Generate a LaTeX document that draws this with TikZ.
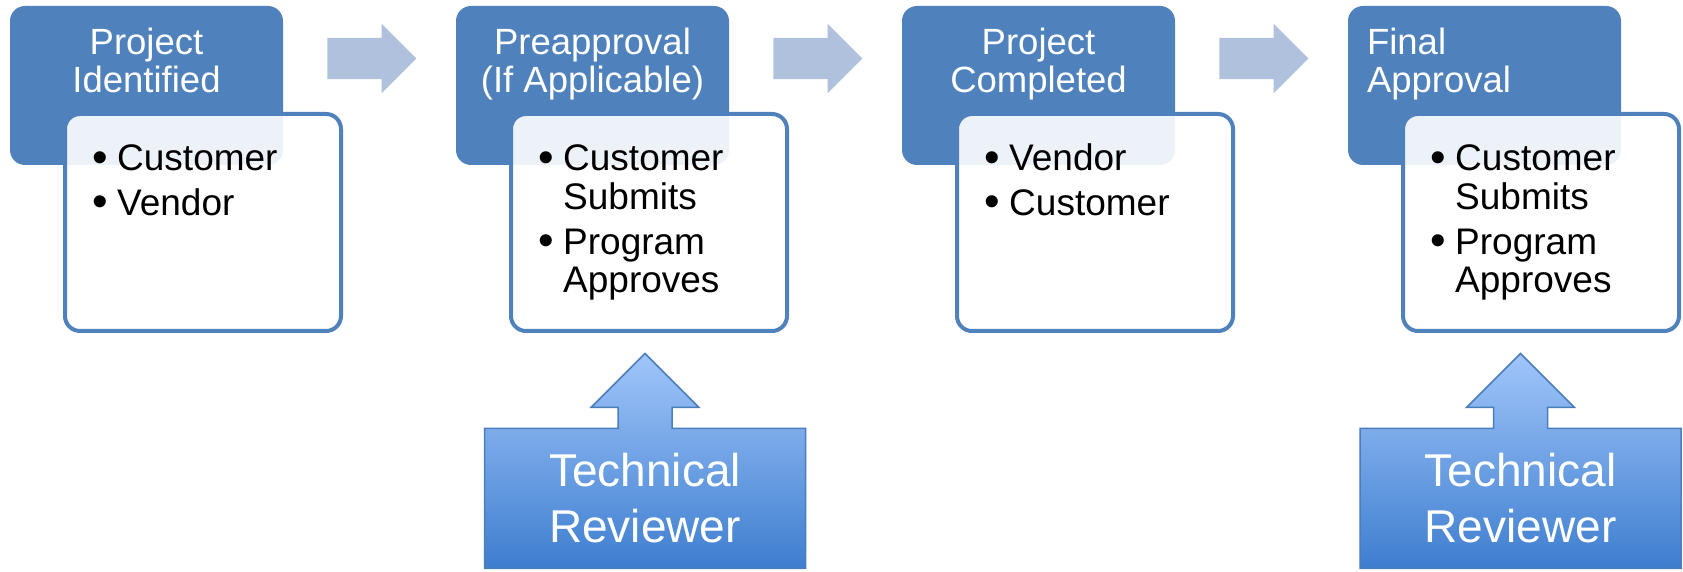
\documentclass[tikz,border=0pt]{standalone}
\usepackage{fontspec}
\setmainfont{Liberation Sans}
\usetikzlibrary{shapes.arrows,backgrounds}

\definecolor{stageblue}{HTML}{4F81BD}
\definecolor{flowgray}{HTML}{B0C1DD}
\definecolor{revtop}{HTML}{A0C5FA}
\definecolor{revbot}{HTML}{3E7ECF}
\definecolor{revline}{HTML}{4A7EBB}

\newcommand{\bdot}{\raisebox{-1.6pt}{\fontsize{44.4}{44}\selectfont\textbullet}}
\newcommand{\bitem}[1]{\makebox[25pt][l]{\bdot}#1}
\newcommand{\bcont}[1]{\hspace*{25pt}#1}

\begin{document}
\begin{tikzpicture}[x=1pt, y=1pt, node distance=446pt,
    stagebox/.style={rectangle, fill=stageblue, rounded corners=15pt, minimum width=273pt, minimum height=159pt, inner sep=0pt},
    stagetitle/.style={text=white, inner sep=0pt, font=\fontsize{36.5}{38}\selectfont},
    infobox/.style={rectangle, draw=stageblue, line width=4pt, fill=white, fill opacity=0.9, text opacity=1, rounded corners=15pt, minimum width=276pt, minimum height=217pt},
    infotext/.style={anchor=base west, align=left, inner sep=0pt, font=\fontsize{37}{38.6}\selectfont},
    flowarrow/.style={single arrow, fill=flowgray, minimum height=89pt, minimum width=69pt, single arrow head extend=14pt, single arrow tip angle=90, inner sep=0pt, inner ysep=20.5pt},
    reviewer/.style={rectangle, minimum width=321pt, minimum height=140pt, outer sep=0pt, text=white, align=center, font=\fontsize{46}{56}\selectfont},
    revshape/.style={top color=revtop, bottom color=revbot, draw=revline, line width=1.5pt}]

    \useasboundingbox (0,0) rectangle (1683,572);

    \node[stagebox] (t1) at (146.5,486.5) {};
    \node[stagebox, right of=t1] (t2) {};
    \node[stagebox, right of=t2] (t3) {};
    \node[stagebox, right of=t3] (t4) {};

    \node[flowarrow] (a1) at ([shift={(215,27)}]t1.center) {};
    \node[flowarrow] (a2) at ([shift={(215,27)}]t2.center) {};
    \node[flowarrow] (a3) at ([shift={(215,27)}]t3.center) {};

    \node[infobox] (w1) at ([shift={(56.5,-137)}]t1.center) {};
    \node[infobox] (w2) at ([shift={(56.5,-137)}]t2.center) {};
    \node[infobox] (w3) at ([shift={(56.5,-137)}]t3.center) {};
    \node[infobox] (w4) at ([shift={(56.5,-137)}]t4.center) {};

    \node[stagetitle, align=center, anchor=base] (n1) at ([yshift=-87]t1.north) {Project\\Identified};
    \node[stagetitle, align=center, anchor=base] (n2) at ([yshift=-87]t2.north) {Preapproval\\(If Applicable)};
    \node[stagetitle, align=center, anchor=base] (n3) at ([yshift=-87]t3.north) {Project\\Completed};
    \node[stagetitle, align=left, anchor=base west] (n4) at ([shift={(19,-87)}]t4.north west) {Final\\Approval};

    \node[infotext] (b1) at ([shift={(29,-103.3)}]w1.north west) {\bitem{Customer}\\[5.7pt]\bitem{Vendor}};
    \node[infotext] (b2) at ([shift={(29,-180.8)}]w2.north west) {\bitem{Customer}\\\bcont{Submits}\\[6pt]\bitem{Program}\\\bcont{Approves}};
    \node[infotext] (b3) at ([shift={(29,-103.3)}]w3.north west) {\bitem{Vendor}\\[5.7pt]\bitem{Customer}};
    \node[infotext] (b4) at ([shift={(29,-180.8)}]w4.north west) {\bitem{Customer}\\\bcont{Submits}\\[6pt]\bitem{Program}\\\bcont{Approves}};

    \node[reviewer] (r2) at (645,73.5) {Technical\\Reviewer};
    \node[reviewer] (r4) at (1520.5,73.5) {Technical\\Reviewer};

    \begin{scope}[on background layer]
      \foreach \rev in {r2,r4}
        \path[revshape] (\rev.north west) -- ([xshift=-27pt]\rev.north) -- ++(0,21) -- ++(-27,0) -- ++(54,54) -- ++(54,-54) -- ++(-27,0) -- ++(0,-21) -- (\rev.north east) -- (\rev.south east) -- (\rev.south west) -- cycle;
    \end{scope}
  \end{tikzpicture}
\end{document}
